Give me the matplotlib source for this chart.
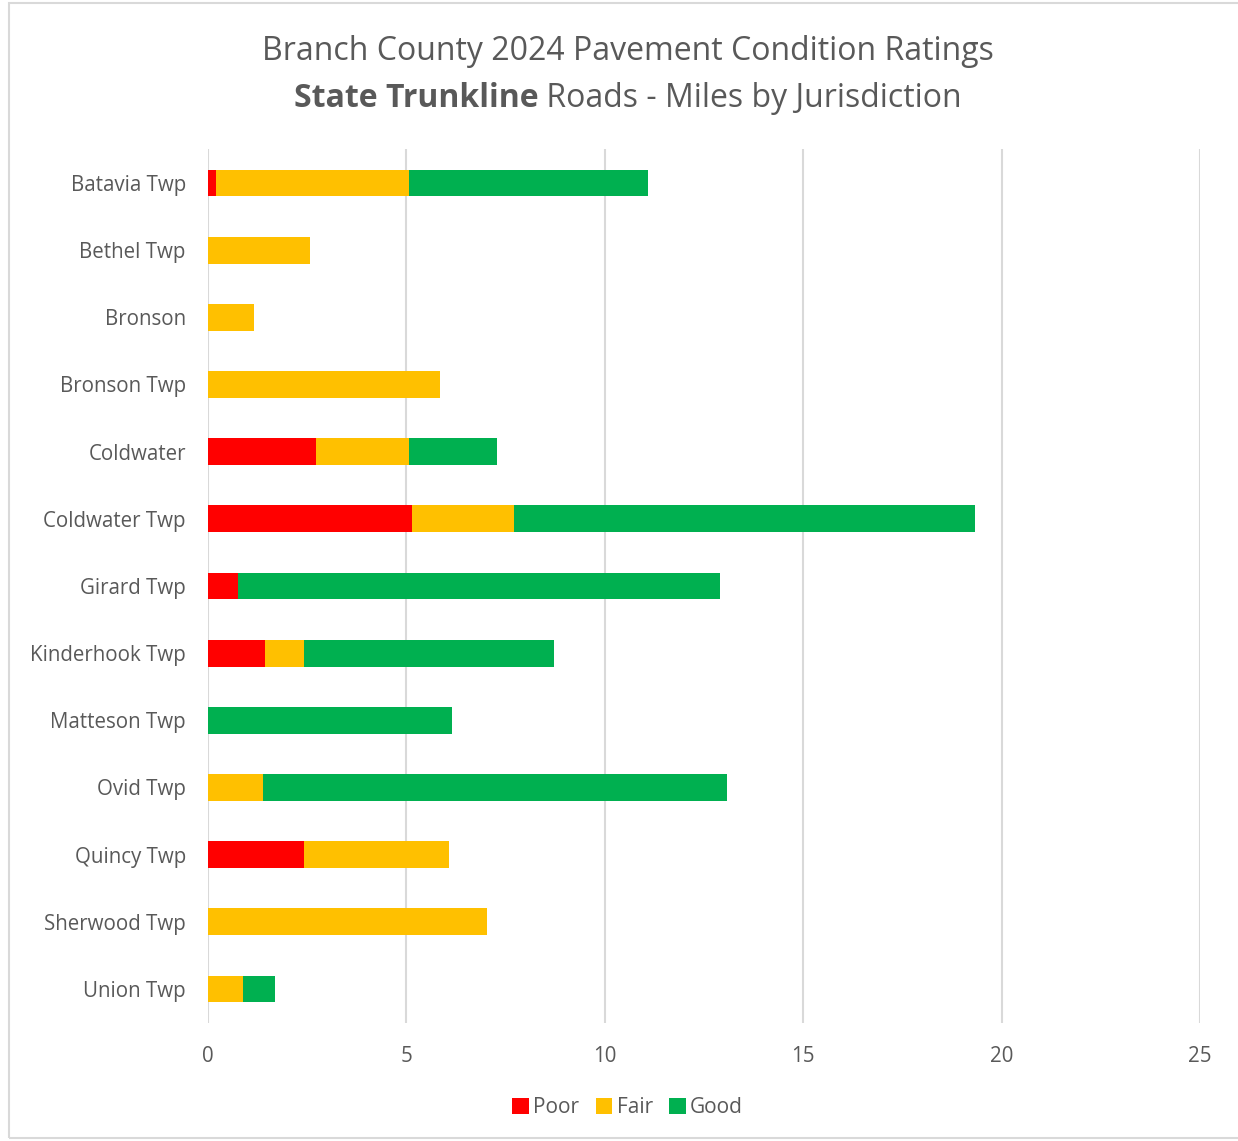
import matplotlib
matplotlib.use("Agg")
import matplotlib.pyplot as plt
from matplotlib.patches import Rectangle
from matplotlib.offsetbox import TextArea, HPacker, AnchoredOffsetbox

categories = ["Batavia Twp", "Bethel Twp", "Bronson", "Bronson Twp", "Coldwater",
              "Coldwater Twp", "Girard Twp", "Kinderhook Twp", "Matteson Twp",
              "Ovid Twp", "Quincy Twp", "Sherwood Twp", "Union Twp"]
poor = [0.19, 0, 0, 0, 2.73, 5.14, 0.75, 1.44, 0, 0, 2.43, 0, 0]
fair = [4.88, 2.58, 1.16, 5.85, 2.34, 2.56, 0, 0.99, 0, 1.38, 3.65, 7.03, 0.87]
good = [6.02, 0, 0, 0, 2.22, 11.62, 12.15, 6.29, 6.14, 11.70, 0, 0, 0.82]
series_names = ["Poor", "Fair", "Good"]
colors = ["#FF0000", "#FFC000", "#00B050"]
xticks = [0, 5, 10, 15, 20, 25]

plt.rcParams['font.family'] = ['Open Sans', 'DejaVu Sans']
text_color = "#595959"

fig = plt.figure(figsize=(12.38, 11.41), dpi=100)
ax = fig.add_axes([0.168, 0.1038, 0.8013, 0.7653])

y = list(range(len(categories)))
left = [0] * len(categories)
handles = []
for vals, name, c in zip([poor, fair, good], series_names, colors):
    h = ax.barh(y, vals, left=left, height=0.4, color=c, label=name, zorder=3)
    handles.append(h)
    left = [l + v for l, v in zip(left, vals)]

ax.set_xlim(0, 25)
ax.set_ylim(len(categories) - 0.5, -0.5)
ax.set_yticks(y)
ax.set_yticklabels(categories, fontsize=14.8, color=text_color)
ax.set_xticks(xticks)
ax.set_xticklabels([str(t) for t in xticks], fontsize=14.8, color=text_color)
ax.tick_params(axis='y', length=0, pad=16)
ax.tick_params(axis='x', length=0, pad=17)
ax.grid(axis='x', color="#d9d9d9", linewidth=1.5, zorder=0)
for s in ax.spines.values():
    s.set_visible(False)

fig.text(0.507, 0.955, "Branch County 2024 Pavement Condition Ratings",
         ha='center', va='center', fontsize=23, color=text_color)
t1 = TextArea("State Trunkline", textprops=dict(fontsize=23, color=text_color, fontweight='bold'))
t2 = TextArea(" Roads - Miles by Jurisdiction", textprops=dict(fontsize=23, color=text_color))
box = HPacker(children=[t1, t2], align="baseline", pad=0, sep=0)
ab = AnchoredOffsetbox(loc='center', child=box, frameon=False,
                       bbox_to_anchor=(0.507, 0.914), bbox_transform=fig.transFigure, pad=0, borderpad=0)
fig.add_artist(ab)

leg = fig.legend(handles=handles, loc='center', bbox_to_anchor=(0.507, 0.029), ncol=3,
                 frameon=False, fontsize=15, handlelength=0.8, handleheight=0.8,
                 handletextpad=0.2, columnspacing=0.8, labelcolor=text_color)

border = Rectangle((9 / 1238, 0.003), 1.0, 1 - 3 / 1141 - 0.003, transform=fig.transFigure,
                   fill=False, edgecolor="#d9d9d9", linewidth=1.5)
fig.add_artist(border)

fig.savefig("out.png", dpi=100)
